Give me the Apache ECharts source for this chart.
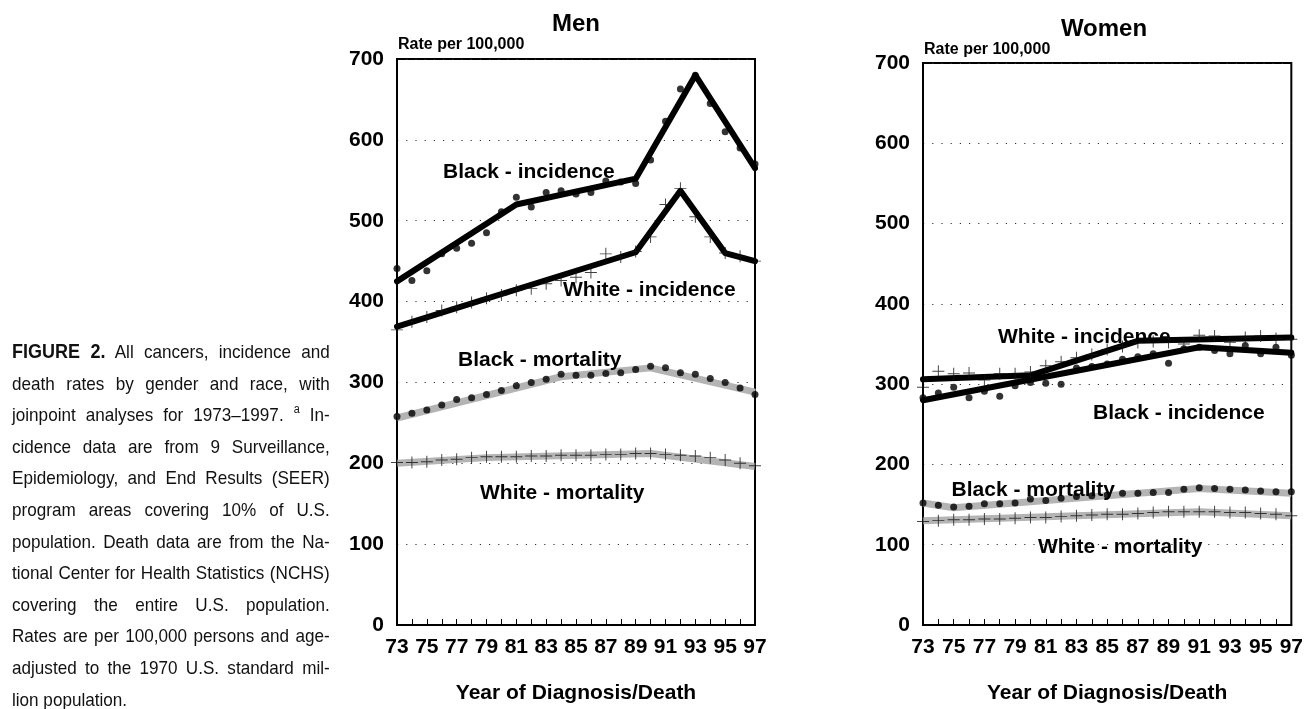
<!DOCTYPE html>
<html><head><meta charset="utf-8">
<script src="https://cdn.jsdelivr.net/npm/echarts@6/dist/echarts.min.js"></script>
<style>
html,body{margin:0;padding:0;background:#fff;}
#chart{position:absolute;left:0;top:0;width:1306px;height:709px;}
#caption{position:absolute;left:12px;top:336px;width:318px;overflow:visible;}
#capInner{width:353px;transform:scaleX(0.9);transform-origin:0 0;font-family:"Liberation Sans",Arial,sans-serif;font-size:19px;color:#111;}
#capInner div{white-space:nowrap;text-align:justify;text-align-last:justify;line-height:31.6px;height:31.6px;}
#capInner div.last{text-align-last:left;}
#capInner b{font-size:20px;}
sup{font-size:12px;line-height:0;vertical-align:8px;}
</style></head>
<body>
<div id="chart"></div>
<div id="caption"><div id="capInner">
<div><b>FIGURE 2.</b> All cancers, incidence and</div>
<div>death rates by gender and race, with</div>
<div>joinpoint analyses for 1973–1997. <sup>a</sup> In-</div>
<div>cidence data are from 9 Surveillance,</div>
<div>Epidemiology, and End Results (SEER)</div>
<div>program areas covering 10% of U.S.</div>
<div>population. Death data are from the Na-</div>
<div>tional Center for Health Statistics (NCHS)</div>
<div>covering the entire U.S. population.</div>
<div>Rates are per 100,000 persons and age-</div>
<div>adjusted to the 1970 U.S. standard mil-</div>
<div class="last">lion population.</div>
</div></div>
<script>
// ---- data ----
const years = [73,74,75,76,77,78,79,80,81,82,83,84,85,86,87,88,89,90,91,92,93,94,95,96,97];
const yTicks = [0,100,200,300,400,500,600,700];

const menBlackInc  = [441,426,438,459,466,472,485,511,529,517,535,537,533,535,549,548,546,575,623,663,680,645,610,590,570];
const menBlackIncFit = [[73,425],[81,520],[89,552],[93,680],[97,565]];
const menWhiteInc  = [365,375,381,389,393,399,404,408,414,416,422,426,430,436,459,455,462,480,520,540,505,480,460,456,450];
const menWhiteIncFit = [[73,369],[89,461],[92,537],[95,460],[97,450]];
const menBlackMort = [258,262,266,272,279,281,285,290,296,300,304,310,309,309,311,312,316,320,318,312,310,305,300,293,285];
const menBlackMortFit = [[73,256],[84,307],[90,318],[97,288]];
const menWhiteMort = [201,201,202,204,205,207,208,208,208,209,209,210,210,210,211,211,212,212,211,210,209,207,204,200,197];
const menWhiteMortFit = [[73,200],[79,207],[90,212],[97,196]];

const womenWhiteInc  = [296,316,313,314,305,313,313,315,323,328,333,337,343,347,352,353,352,350,361,360,352,358,360,357,356];
const womenWhiteIncFit = [[73,306],[80,311],[87,354],[97,358]];
const womenBlackInc  = [283,289,296,283,291,285,298,302,301,300,320,322,325,331,334,338,326,344,346,342,338,348,338,346,336];
const womenBlackIncFit = [[73,280],[91,346],[97,339]];
const womenBlackMort = [152,149,147,148,151,151,152,157,155,158,160,161,162,164,164,165,165,169,171,170,169,168,167,166,166];
const womenBlackMortFit = [[73,152],[75,146],[91,170],[97,164]];
const womenWhiteMort = [129,130,131,131,132,132,133,134,134,135,136,137,138,138,139,140,141,141,141,141,140,140,139,138,136];
const womenWhiteMortFit = [[73,130],[91,141],[97,136]];

const seriesLabels = ['Black - incidence','White - incidence','Black - mortality','White - mortality'];

// ---- chart ----
const FONT = '"Liberation Sans", Arial, sans-serif';
const PLUS = 'path://M0,4.6H10V5.4H0ZM4.6,0H5.4V10H4.6Z';
const pts = arr => years.map((y,i)=>[y,arr[i]]);

function axesFor(idx){
  return {
    x: {
      type:'value', gridIndex: idx, min: years[0], max: years[years.length-1], interval: 1,
      axisLine:{show:true, lineStyle:{color:'#000', width:2}},
      axisTick:{show:true, inside:true, length:6, lineStyle:{color:'#000', width:1}},
      axisLabel:{color:'#000', fontFamily:FONT, fontWeight:'bold', fontSize:21, margin:12,
        formatter: v => (v % 2 === 1) ? String(v) : ''},
      splitLine:{show:false},
      name:'Year of Diagnosis/Death', nameLocation:'middle', nameGap:58,
      nameTextStyle:{color:'#000', fontFamily:FONT, fontWeight:'bold', fontSize:21}
    },
    y: {
      type:'value', gridIndex: idx, min: yTicks[0], max: yTicks[yTicks.length-1], interval: 100,
      axisLine:{show:true, lineStyle:{color:'#000', width:2}},
      axisTick:{show:false},
      axisLabel:{color:'#000', fontFamily:FONT, fontWeight:'bold', fontSize:21, margin:13},
      splitLine:{show:true, lineStyle:{color:'#333', width:1.2, type:[1.2,8]}}
    }
  };
}
const a0 = axesFor(0), a1 = axesFor(1);

function fitLine(idx, data, gray){
  return {type:'line', xAxisIndex:idx, yAxisIndex:idx, data:data, symbol:'none', z:2,
    lineStyle: gray ? {color:'#b4b4b4', width:7} : {color:'#000', width:6, cap:'round', join:'round'},
    silent:true, animation:false};
}
function dots(idx, arr){
  return {type:'scatter', xAxisIndex:idx, yAxisIndex:idx, data:pts(arr), symbol:'circle', symbolSize:7, z:4,
    itemStyle:{color:'#000'}, animation:false, silent:true};
}
function pluses(idx, arr){
  return {type:'scatter', xAxisIndex:idx, yAxisIndex:idx, data:pts(arr), symbol:PLUS, symbolSize:12, z:4,
    itemStyle:{color:'#111'}, animation:false, silent:true};
}

function txt(text, x, y, size, align){
  return {type:'text', x:x, y:y, z:10, style:{text:text, fill:'#000', font:'bold '+size+'px '+FONT,
    textAlign: align||'left', textVerticalAlign:'middle'}};
}

const chart = echarts.init(document.getElementById('chart'), null, {renderer:'canvas'});
chart.setOption({
  backgroundColor:'#fff',
  animation:false,
  grid:[
    {left:397, top:59, width:358, height:573, show:true, borderColor:'#000', borderWidth:2, backgroundColor:'transparent'},
    {left:923, top:63, width:369, height:573, show:true, borderColor:'#000', borderWidth:2, backgroundColor:'transparent'}
  ],
  xAxis:[a0.x, a1.x],
  yAxis:[a0.y, a1.y],
  series:[
    fitLine(0, menBlackMortFit, true),
    fitLine(0, menWhiteMortFit, true),
    fitLine(0, menBlackIncFit, false),
    fitLine(0, menWhiteIncFit, false),
    dots(0, menBlackInc), pluses(0, menWhiteInc), dots(0, menBlackMort), pluses(0, menWhiteMort),
    fitLine(1, womenBlackMortFit, true),
    fitLine(1, womenWhiteMortFit, true),
    fitLine(1, womenBlackIncFit, false),
    fitLine(1, womenWhiteIncFit, false),
    dots(1, womenBlackInc), pluses(1, womenWhiteInc), dots(1, womenBlackMort), pluses(1, womenWhiteMort)
  ],
  graphic:[
    txt('Men', 576, 24, 24, 'center'),
    txt('Women', 1104, 29, 24, 'center'),
    txt('Rate per 100,000', 398, 45, 16),
    txt('Rate per 100,000', 924, 50, 16),
    txt(seriesLabels[0], 443, 172, 21),
    txt(seriesLabels[1], 563, 290, 21),
    txt(seriesLabels[2], 458, 360, 21),
    txt(seriesLabels[3], 480, 493, 21),
    txt(seriesLabels[1], 998, 337, 21),
    txt(seriesLabels[0], 1093, 413, 21),
    txt(seriesLabels[2], 1115, 490, 21, 'right'),
    txt(seriesLabels[3], 1038, 547, 21)
  ]
});
</script>
</body></html>
